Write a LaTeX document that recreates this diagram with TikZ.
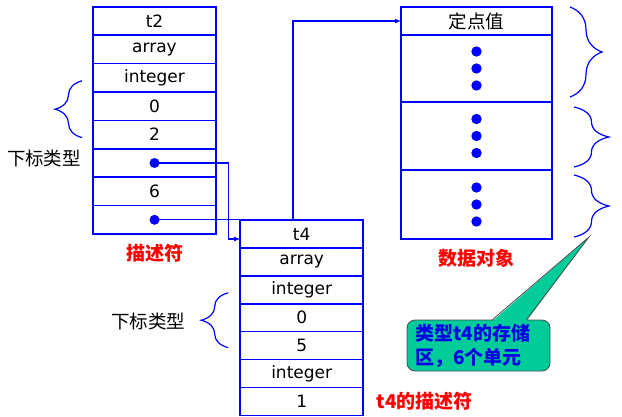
\documentclass[tikz,border=0pt]{standalone}
\usepackage{fontspec}
\setmainfont{DejaVu Sans}
\newfontfamily\cjk{Noto Sans CJK SC}
\usepackage{tikz}
\usetikzlibrary{arrows.meta,positioning,decorations.pathreplacing}

\definecolor{noteFill}{RGB}{0,204,153}
\definecolor{noteText}{RGB}{0,0,230}

\begin{document}
\begin{tikzpicture}[x=1pt,y=-1pt,>={Latex[length=6pt,width=5pt]},
    cell/.style={draw=blue,line width=1.6pt,minimum width=123pt,
        minimum height=28.4pt,inner sep=0pt,outer sep=0pt,
        font=\fontsize{17}{19}\selectfont},
    dot/.style={circle,fill=blue,inner sep=0pt,minimum size=10pt},
    ptr/.style={draw=blue,line width=1.2pt,->},
    curly/.style={draw=blue,line width=1.2pt,decorate,
        decoration={brace,amplitude=#1}},
    lbl/.style={text=red,font=\cjk\bfseries\fontsize{19}{22}\selectfont},
    side/.style={font=\cjk\fontsize{18.5}{22}\selectfont}]

\useasboundingbox (0,0) rectangle (622,416);

% Descriptor of t2
\node[cell] (a1) at (154.5,21) {t2};
\foreach \txt [count=\i from 2] in {array,integer,0,2,{},6,{}}{
    \pgfmathtruncatemacro\j{\i-1}
    \node[cell,below=0pt of a\j] (a\i) {\txt};
}
\node[dot] (p1) at (a6) {};
\node[dot] (p2) at (a8) {};

% Descriptor of t4
\node[cell,minimum height=27.9pt] (b1) at (301.7,234) {t4};
\foreach \txt [count=\i from 2] in {array,integer,0,5,integer,1}{
    \pgfmathtruncatemacro\j{\i-1}
    \node[cell,minimum height=27.9pt,below=0pt of b\j] (b\i) {\txt};
}

% Data object
\node[cell,minimum width=151pt,minimum height=28pt,font=\cjk\fontsize{18.5}{22}\selectfont]
    (d1) at (476.5,21) {定点值};
\node[cell,minimum width=151pt,minimum height=67pt,below=0pt of d1] (d2) {};
\node[cell,minimum width=151pt,minimum height=68pt,below=0pt of d2] (d3) {};
\node[cell,minimum width=151pt,minimum height=69pt,below=0pt of d3] (d4) {};
\foreach \c in {d2,d3,d4}{
    \foreach \dy in {-17,0,17}{
        \fill[blue] ([yshift=\dy pt]\c.center) circle (5.2pt);
    }
}

% Pointers
\draw[ptr] (p1.center) -| ([xshift=-12pt,yshift=-5pt]b1.west)
    -- ([yshift=-5pt]b1.west);
\draw[ptr] (p2.center) -| ([xshift=-108pt]d1.west) -- (d1.west);

% Braces and side labels
\draw[curly=27pt] ([xshift=-11pt,yshift=-3pt]a5.west)
    -- ([xshift=-11pt,yshift=-3pt]a3.west);
\node[side] (ix2) at (44,158) {下标类型};
\draw[curly=27pt] ([xshift=-12pt,yshift=-2pt]b5.west)
    -- ([xshift=-12pt,yshift=-3pt]b3.west);
\node[side] (ix4) at (148,321) {下标类型};

\draw[curly=32pt] ([xshift=18pt]d1.north east)
    -- ([xshift=18pt,yshift=5pt]d2.south east);
\draw[curly=35pt] ([xshift=22pt,yshift=-5pt]d3.north east)
    -- ([xshift=22pt,yshift=3pt]d3.south east);
\draw[curly=35pt] ([xshift=22pt,yshift=-5pt]d4.north east)
    -- ([xshift=22pt,yshift=2pt]d4.south east);

% Captions
\node[lbl,below=7pt of a8] (cap2) {描述符};
\node[lbl,below=7pt of d4] (capd) {数据对象};
\node[lbl,right=10pt of b7] (cap4) {t4的描述符};

% Callout
\coordinate (tip) at ([xshift=37pt,yshift=2pt]d4.south east);
\node[draw=black!70,line width=0.8pt,fill=noteFill,rounded corners=8pt,
    minimum width=143pt,minimum height=51pt,text width=127pt,align=left,
    inner sep=0pt,text=noteText,font=\cjk\bfseries\fontsize{19}{24}\selectfont]
    (note) at (478.5,345.5) {类型t4的存储\\区，6个单元};
\fill[noteFill] ([xshift=14pt,yshift=-1.5pt]note.north) -- (tip)
    -- ([xshift=48pt,yshift=-1.5pt]note.north) -- cycle;
\draw[black!70,line width=0.8pt] ([xshift=14pt]note.north) -- (tip)
    -- ([xshift=48pt]note.north);

\end{tikzpicture}
\end{document}
